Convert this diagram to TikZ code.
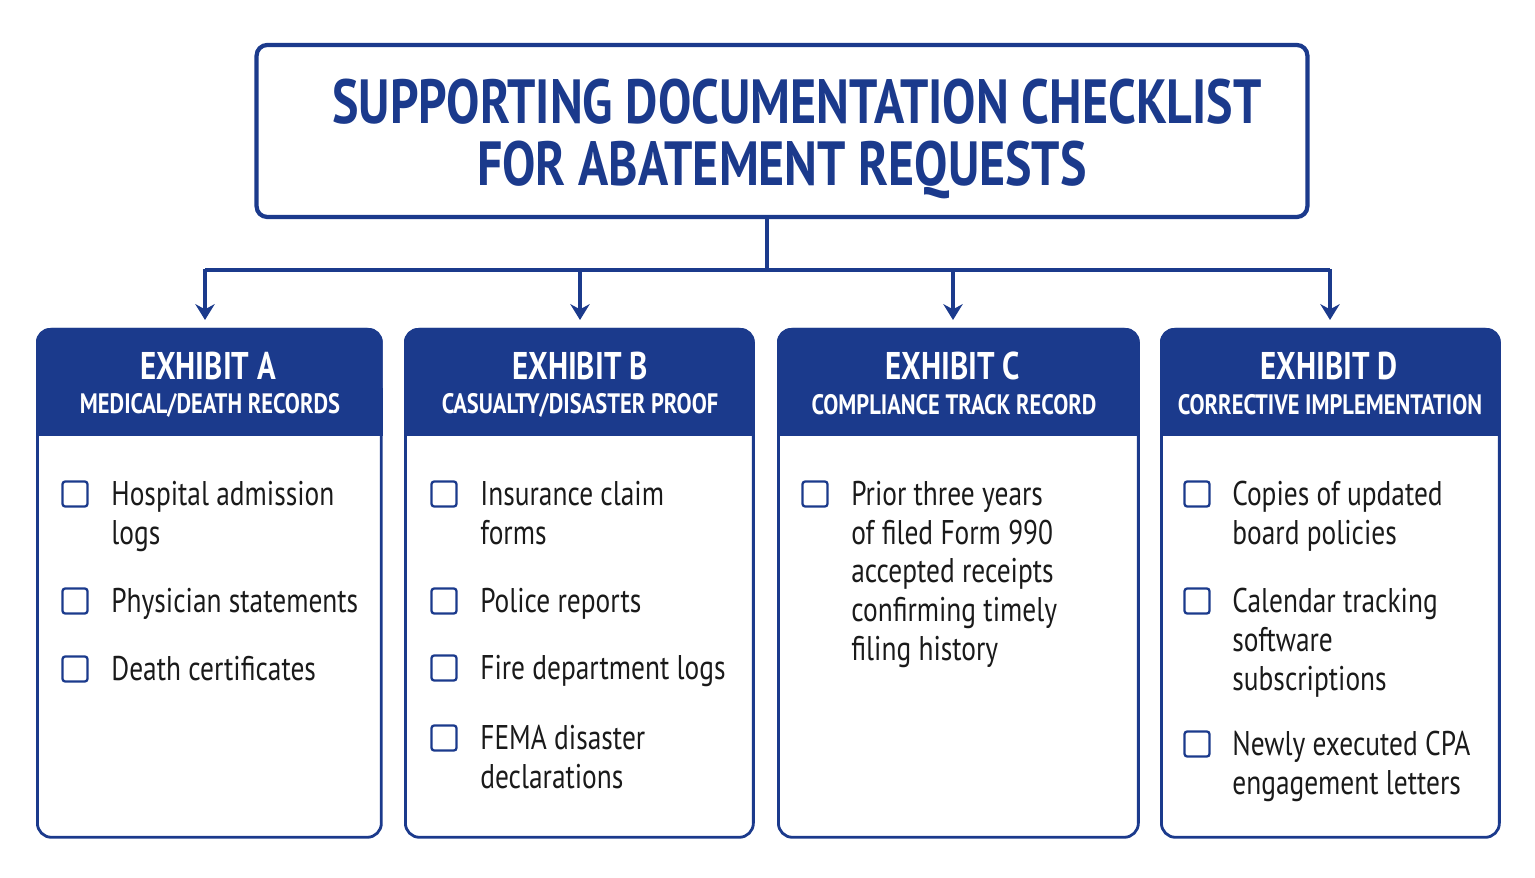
\documentclass[tikz,border=0pt]{standalone}
\usepackage{fontspec}
\newfontfamily\cond[FakeStretch=0.8]{PT Sans}
\usetikzlibrary{positioning, arrows.meta, calc}
\definecolor{navy}{HTML}{1B3A8C}
\definecolor{ink}{HTML}{1A1A1A}
\tikzset{
  exhibit/.style={draw=navy, line width=1.6pt, rounded corners=8pt, minimum width=#1, minimum height=10.16cm, anchor=north west},
  head/.style={font=\cond\bfseries\fontsize{22}{24}\selectfont, text=white},
  sub/.style={font=\cond\bfseries\fontsize{16}{18}\selectfont, text=white},
  box/.style={draw=navy, line width=1.3pt, rounded corners=1.5pt, minimum size=0.5cm, inner sep=0pt},
  item/.style={anchor=north west, inner sep=0pt, align=left, text=ink, font=\cond\fontsize{19.5}{22}\selectfont},
  arrow/.style={draw=navy, line width=2.4pt, -{Stealth[length=9pt,width=11pt]}}
}
\begin{document}
\begin{tikzpicture}[x=0.02cm, y=-0.02cm]
    \useasboundingbox (0,0) rectangle (1535,878);
    % title
    \node[draw=navy, line width=2.4pt, rounded corners=6pt, minimum width=21.02cm, minimum height=3.44cm] (frame) at (782,131) {};
    \node[align=center, text=navy, font=\cond\bfseries\fontsize{35.5}{35.5}\selectfont] (title) at (782,139)
      {\hspace*{0.6cm}SUPPORTING DOCUMENTATION CHECKLIST\\FOR ABATEMENT REQUESTS};
    % exhibit frames
    \node[exhibit=6.88cm] (A) at (36,328) {};
    \node[exhibit=6.96cm] (B) at (404,328) {};
    \node[exhibit=7.2cm] (C) at (777,328) {};
    \node[exhibit=6.76cm] (D) at (1160,328) {};
    \foreach \e in {A,B,C,D}{
      \fill[navy, rounded corners=8pt] (\e.north west) rectangle ($(\e.north east)+(0,-2.16cm)$);
      \fill[navy] ($(\e.north west)+(0,-1.2cm)$) rectangle ($(\e.north east)+(0,-2.16cm)$);
    }
    % headings
    \node[head] (hA) at (208,366) {EXHIBIT A};
    \node[sub] (sA) at (210,405) {MEDICAL/DEATH RECORDS};
    \node[head] (hB) at (580,366) {EXHIBIT B};
    \node[sub] (sB) at (580,405) {CASUALTY/DISASTER PROOF};
    \node[head] (hC) at (953,366) {EXHIBIT C};
    \node[sub] (sC) at (954,405) {COMPLIANCE TRACK RECORD};
    \node[head] (hD) at (1329,366) {EXHIBIT D};
    \node[sub] (sD) at (1330,405) {CORRECTIVE IMPLEMENTATION};
    % connectors
    \coordinate (split) at (767,270);
    \draw[navy, line width=2.4pt] (frame.south -| split) -- (split);
    \draw[navy, line width=2.4pt] (205,270) -- (1330,270);
    \draw[arrow] (205,268.8) -- (205,320);
    \draw[arrow] (580,270) -- (580,320);
    \draw[arrow] (953,270) -- (953,320);
    \draw[arrow] (1330,268.8) -- (1330,320);
    % exhibit A items
    \node[box] (a1) at (75,494) {};
    \node[item] (ta1) at (111,481) {Hospital admission\\logs};
    \node[box] (a2) at (75,601) {};
    \node[item] (ta2) at (111,588) {Physician statements};
    \node[box] (a3) at (75,669) {};
    \node[item] (ta3) at (111,656) {Death certificates};
    % exhibit B items
    \node[box] (b1) at (444,494) {};
    \node[item] (tb1) at (480,481) {Insurance claim\\forms};
    \node[box] (b2) at (444,601) {};
    \node[item] (tb2) at (480,588) {Police reports};
    \node[box] (b3) at (444,668) {};
    \node[item] (tb3) at (480,655) {Fire department logs};
    \node[box] (b4) at (444,738) {};
    \node[item] (tb4) at (480,725) {FEMA disaster\\declarations};
    % exhibit C items
    \node[box] (c1) at (815,494) {};
    \node[item] (tc1) at (851,481) {Prior three years\\of filed Form 990\\accepted receipts\\confirming timely\\filing history};
    % exhibit D items
    \node[box] (d1) at (1197,494) {};
    \node[item] (td1) at (1232,481) {Copies of updated\\board policies};
    \node[box] (d2) at (1197,601) {};
    \node[item] (td2) at (1232,588) {Calendar tracking\\software\\subscriptions};
    \node[box] (d3) at (1197,744) {};
    \node[item] (td3) at (1232,731) {Newly executed CPA\\engagement letters};
\end{tikzpicture}
\end{document}
